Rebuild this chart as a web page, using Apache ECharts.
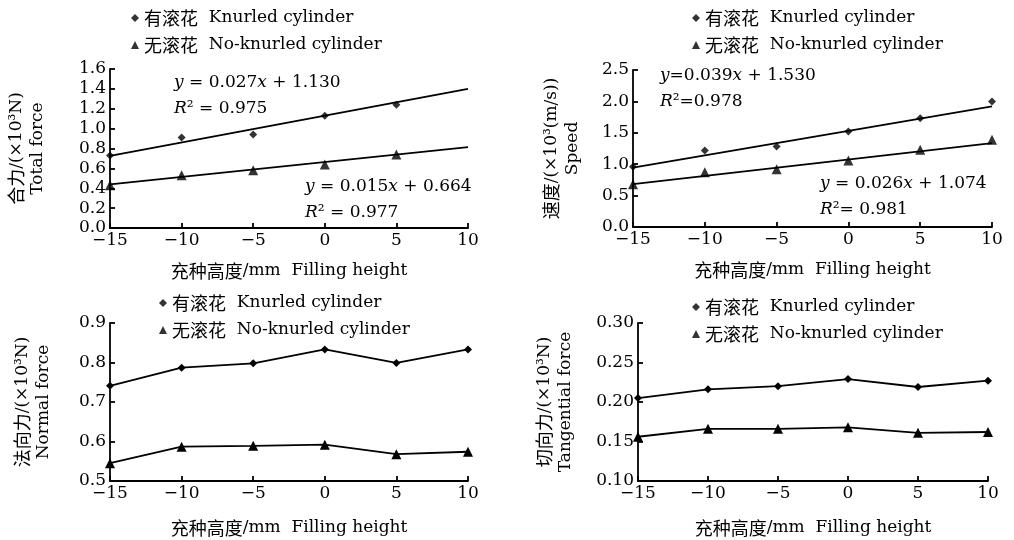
<!DOCTYPE html>
<html>
<head>
<meta charset="utf-8">
<script src="https://cdn.jsdelivr.net/npm/echarts@6/dist/echarts.min.js"></script>
<style>
  html, body { margin: 0; padding: 0; background: #fff; }
  #main { width: 1014px; height: 540px; }
</style>
</head>
<body>
<div id="main"></div>
<script>
// filling height (mm), shared x values
const heights = [-15, -10, -5, 0, 5, 10];

// total force (x10^3 N) - no point drawn at 10 in the source
const totalKnurled = [0.73, 0.91, 0.94, 1.13, 1.24];
const totalPlain = [0.43, 0.53, 0.58, 0.64, 0.74];
const totalFitKnurled = [[-15, 0.725], [10, 1.400]];
const totalFitPlain = [[-15, 0.439], [10, 0.814]];

// speed (x10^3 (m/s))
const speedKnurled = [0.96, 1.22, 1.28, 1.52, 1.73, 2.00];
const speedPlain = [0.68, 0.87, 0.92, 1.06, 1.23, 1.39];
const speedFitKnurled = [[-15, 0.945], [10, 1.920]];
const speedFitPlain = [[-15, 0.684], [10, 1.334]];

// normal force
const normalKnurled = [0.741, 0.787, 0.798, 0.833, 0.799, 0.833];
const normalPlain = [0.545, 0.587, 0.589, 0.592, 0.568, 0.574];

// tangential force
const tangKnurled = [0.205, 0.216, 0.220, 0.229, 0.219, 0.227];
const tangPlain = [0.156, 0.166, 0.166, 0.168, 0.161, 0.162];

const nameKnurled = '有滚花  Knurled cylinder';
const namePlain = '无滚花  No-knurled cylinder';

const LATIN = "'DejaVu Serif', 'Liberation Serif', serif";
const CJK = "'Noto Sans CJK SC', 'DejaVu Serif', serif";
const FS = 17;

const rich = {
    c: { fontFamily: CJK, fontSize: 18, color: '#000' },
    e: { fontFamily: LATIN, fontSize: FS, color: '#000' },
    i: { fontFamily: LATIN, fontSize: FS, fontStyle: 'italic', color: '#000' }
};

const pairs = (vals) => vals.map((v, i) => [heights[i], v]);
const minus = (v) => String(v).replace('-', '\u2212');

const panels = [
    { grid: { left: 110, top: 69, width: 358, height: 159 }, y: [0, 1.6, 0.2, 1],
      yName: '{c|合力}/(×10³N)\nTotal force', nameGap: 62,
      legend: { left: 126, top: 4 } },
    { grid: { left: 633, top: 70, width: 359, height: 157 }, y: [0, 2.5, 0.5, 1],
      yName: '{c|速度}/(×10³(m/s))\nSpeed', nameGap: 50,
      legend: { left: 687, top: 4 } },
    { grid: { left: 110, top: 323, width: 358, height: 158 }, y: [0.5, 0.9, 0.1, 1],
      yName: '{c|法向力}/(×10³N)\nNormal force', nameGap: 56,
      legend: { left: 154, top: 289 } },
    { grid: { left: 638, top: 323, width: 350, height: 158 }, y: [0.1, 0.3, 0.05, 2],
      yName: '{c|切向力}/(×10³N)\nTangential force', nameGap: 62,
      legend: { left: 687, top: 293 } }
];

const axisCommon = {
    axisLine: { onZero: false, lineStyle: { color: '#000', width: 1.8 } },
    axisTick: { inside: true, length: 5, lineStyle: { color: '#000', width: 1.8 } },
    splitLine: { show: false },
    nameTextStyle: { fontFamily: LATIN, fontSize: FS, color: '#000', rich: rich }
};

const legendFmt = (n) => {
    const [cn, en] = n.split('  ');
    return '{c|' + cn + '}  {e|' + en + '}';
};

const markerSeries = (name, vals, idx, symbol, withLine) => ({
    name: name,
    type: withLine ? 'line' : 'scatter',
    xAxisIndex: idx, yAxisIndex: idx,
    data: pairs(vals),
    symbol: symbol,
    symbolSize: symbol === 'triangle' ? 10 : 8,
    itemStyle: { color: '#000' },
    lineStyle: { color: '#000', width: 1.8 },
    silent: true,
    z: 3
});

const fitSeries = (pts, idx) => ({
    name: 'fit',
    type: 'line',
    xAxisIndex: idx, yAxisIndex: idx,
    data: pts,
    showSymbol: false,
    lineStyle: { color: '#000', width: 1.8 },
    silent: true,
    z: 2
});

const eqText = (left, top, txt) => ({
    type: 'text', left: left, top: top,
    style: { text: txt, rich: rich, font: FS + 'px ' + LATIN, fill: '#000', lineHeight: 26 }
});

const chart = echarts.init(document.getElementById('main'));
chart.setOption({
    animation: false,
    backgroundColor: '#fff',
    textStyle: { fontFamily: LATIN, color: '#000' },
    grid: panels.map(p => p.grid),
    xAxis: panels.map((p, i) => Object.assign({}, axisCommon, {
        type: 'value', gridIndex: i, min: -15, max: 10, interval: 5,
        name: '{c|充种高度}/mm  Filling height',
        nameLocation: 'middle', nameGap: i < 2 ? 34 : 38,
        axisLabel: { color: '#000', fontFamily: LATIN, fontSize: FS, margin: 4, formatter: minus }
    })),
    yAxis: panels.map((p, i) => Object.assign({}, axisCommon, {
        type: 'value', gridIndex: i, min: p.y[0], max: p.y[1], interval: p.y[2],
        name: p.yName, nameLocation: 'middle', nameRotate: 90, nameGap: p.nameGap,
        nameTextStyle: { fontFamily: LATIN, fontSize: FS, color: '#000', rich: rich, lineHeight: 21 },
        axisLabel: { color: '#000', fontFamily: LATIN, fontSize: FS, margin: 4,
            formatter: v => v.toFixed(p.y[3]) }
    })),
    legend: panels.map(p => ({
        orient: 'vertical', left: p.legend.left, top: p.legend.top,
        itemWidth: 8, itemHeight: 8, itemGap: 9, selectedMode: false,
        data: [{ name: nameKnurled, icon: 'diamond' }, { name: namePlain, icon: 'triangle' }],
        formatter: legendFmt,
        textStyle: { color: '#000', fontFamily: LATIN, fontSize: FS, rich: rich }
    })),
    series: [
        markerSeries(nameKnurled, totalKnurled, 0, 'diamond', false),
        markerSeries(namePlain, totalPlain, 0, 'triangle', false),
        fitSeries(totalFitKnurled, 0),
        fitSeries(totalFitPlain, 0),
        markerSeries(nameKnurled, speedKnurled, 1, 'diamond', false),
        markerSeries(namePlain, speedPlain, 1, 'triangle', false),
        fitSeries(speedFitKnurled, 1),
        fitSeries(speedFitPlain, 1),
        markerSeries(nameKnurled, normalKnurled, 2, 'diamond', true),
        markerSeries(namePlain, normalPlain, 2, 'triangle', true),
        markerSeries(nameKnurled, tangKnurled, 3, 'diamond', true),
        markerSeries(namePlain, tangPlain, 3, 'triangle', true)
    ],
    graphic: [
        eqText(174, 70, '{i|y} = 0.027{i|x} + 1.130\n{i|R}² = 0.975'),
        eqText(305, 174, '{i|y} = 0.015{i|x} + 0.664\n{i|R}² = 0.977'),
        eqText(660, 63, '{i|y}=0.039{i|x} + 1.530\n{i|R}²=0.978'),
        eqText(820, 171, '{i|y} = 0.026{i|x} + 1.074\n{i|R}²= 0.981')
    ]
});
window.addEventListener('resize', () => chart.resize());
</script>
</body>
</html>
